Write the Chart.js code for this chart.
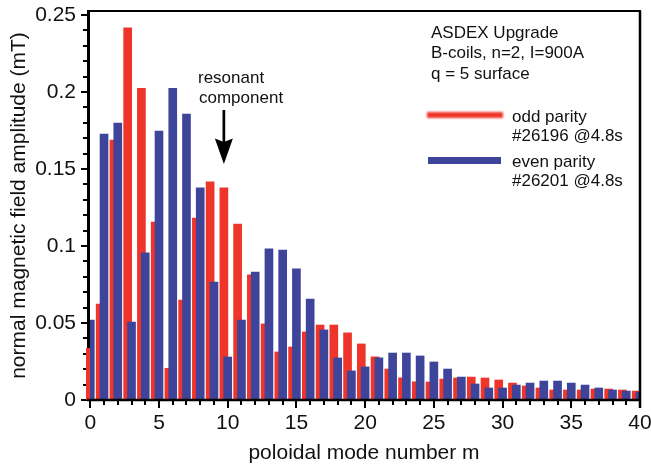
<!DOCTYPE html>
<html>
<head>
<meta charset="utf-8">
<title>Poloidal mode spectrum</title>
<script src="https://cdn.jsdelivr.net/npm/chart.js@4.4.0/dist/chart.umd.min.js"></script>
<style>
  html, body { margin: 0; padding: 0; background: #fff; }
  canvas { display: block; }
</style>
</head>
<body>
<canvas id="spectrum" width="651" height="470"></canvas>
<script>
const ODD_COLOR = "#ef3429";
const EVEN_COLOR = "#3e4499";
const TEXT_COLOR = "#111";
const FONT = "'Liberation Sans', Arial, Helvetica, sans-serif";

// poloidal mode numbers m
const modes = [0, 1, 2, 3, 4, 5, 6, 7, 8, 9, 10, 11, 12, 13, 14, 15, 16, 17, 18, 19, 20,
               21, 22, 23, 24, 25, 26, 27, 28, 29, 30, 31, 32, 33, 34, 35, 36, 37, 38, 39, 40];

// amplitude in mT, odd parity coil set (#26196 @4.8s)
const oddAmplitude = [0.0335, 0.0623, 0.1688, 0.2416, 0.2024, 0.1156, 0.0206, 0.0649, 0.1182, 0.1416,
                      0.1377, 0.1143, 0.0812, 0.0494, 0.0312, 0.0344, 0.0442, 0.0487, 0.0487, 0.0436,
                      0.0364, 0.0280, 0.0201, 0.0144, 0.0118, 0.0117, 0.0136, 0.0143, 0.0149, 0.0143,
                      0.0130, 0.0110, 0.0091, 0.0078, 0.0065, 0.0065, 0.0065, 0.0071, 0.0071, 0.0065,
                      0.0058];

// amplitude in mT, even parity coil set (#26201 @4.8s)
const evenAmplitude = [0.0519, 0.1727, 0.1799, 0.0506, 0.0955, 0.1747, 0.2024, 0.1857, 0.1377, 0.0766,
                       0.0279, 0.0519, 0.0831, 0.0981, 0.0974, 0.0851, 0.0656, 0.0455, 0.0273, 0.0189,
                       0.0215, 0.0274, 0.0305, 0.0305, 0.0286, 0.0247, 0.0201, 0.0149, 0.0104, 0.0078,
                       0.0078, 0.0097, 0.0110, 0.0123, 0.0123, 0.0110, 0.0097, 0.0078, 0.0065, 0.0058,
                       0.0052];

const xTicks = [0, 5, 10, 15, 20, 25, 30, 35, 40];
const xTickLabels = ["0", "5", "10", "15", "20", "25", "30", "35", "40"];
const yTicks = [0, 0.05, 0.1, 0.15, 0.2, 0.25];
const yTickLabels = ["0", "0.05", "0.1", "0.15", "0.2", "0.25"];

const infoLines = ["ASDEX Upgrade", "B-coils, n=2, I=900A", "q = 5 surface"];
const oddLabel = ["odd parity", "#26196 @4.8s"];
const evenLabel = ["even parity", "#26201 @4.8s"];
const arrowLabel = ["resonant", "component"];
const RESONANT_M = 10;

// odd bars sit a little to the left of the even bar of the same m
const ODD_SHIFT = 0.28;

const framePlugin = {
    id: "frame",
    beforeDatasetsDraw(chart) {
        const { ctx, chartArea: a, scales: { y } } = chart;
        ctx.save();
        ctx.strokeStyle = "#000";
        // left axis with ticks pointing outwards
        ctx.lineWidth = 3;
        ctx.beginPath();
        ctx.moveTo(a.left + 0.5, a.top);
        ctx.lineTo(a.left + 0.5, a.bottom + 1);
        ctx.stroke();
        ctx.lineWidth = 2;
        for (let i = 0; i <= 25; i++) {
            const py = Math.round(y.getPixelForValue(i / 100));
            const len = i % 5 === 0 ? 6 : 4;
            ctx.beginPath();
            ctx.moveTo(a.left - 1 - len, py);
            ctx.lineTo(a.left - 1, py);
            ctx.stroke();
        }
        ctx.restore();
    },
    afterDatasetsDraw(chart) {
        const { ctx, chartArea: a, scales: { x } } = chart;
        ctx.save();
        ctx.strokeStyle = "#000";

        // bottom axis, top and right border
        ctx.lineWidth = 2.5;
        ctx.beginPath();
        ctx.moveTo(a.left - 1, a.bottom);
        ctx.lineTo(a.right + 1, a.bottom);
        ctx.stroke();
        ctx.lineWidth = 2;
        ctx.beginPath();
        ctx.moveTo(a.left - 1, a.top);
        ctx.lineTo(a.right + 1, a.top);
        ctx.stroke();
        ctx.lineWidth = 2.5;
        ctx.beginPath();
        ctx.moveTo(a.right, a.top);
        ctx.lineTo(a.right, a.bottom + 8);
        ctx.stroke();

        ctx.lineWidth = 2;
        for (let m = 0; m < 40; m++) {
            const px = Math.round(x.getPixelForValue(m));
            const len = m % 5 === 0 ? 8 : 5;
            ctx.beginPath();
            ctx.moveTo(px, a.bottom);
            ctx.lineTo(px, a.bottom + len);
            ctx.stroke();
        }

        ctx.fillStyle = TEXT_COLOR;
        ctx.font = "17px " + FONT;
        ctx.textAlign = "left";
        ctx.textBaseline = "alphabetic";

        infoLines.forEach((t, i) => ctx.fillText(t, 431, 37.5 + i * 20.5));

        // legend
        ctx.save();
        ctx.filter = "blur(0.8px)";
        ctx.fillStyle = ODD_COLOR;
        ctx.fillRect(427, 112, 76, 6);
        ctx.restore();
        ctx.fillStyle = EVEN_COLOR;
        ctx.fillRect(428, 157, 73, 7);

        ctx.fillStyle = TEXT_COLOR;
        ctx.fillText(oddLabel[0], 512, 121.5);
        ctx.fillText(oddLabel[1], 512, 140.5);
        ctx.fillText(evenLabel[0], 512, 167);
        ctx.fillText(evenLabel[1], 512, 186);

        // arrow to the resonant m
        ctx.fillText(arrowLabel[0], 198, 83);
        ctx.fillText(arrowLabel[1], 199, 103);
        const ax = x.getPixelForValue(RESONANT_M - ODD_SHIFT);
        ctx.lineWidth = 2.7;
        ctx.beginPath();
        ctx.moveTo(ax, 110);
        ctx.lineTo(ax, 142);
        ctx.stroke();
        ctx.fillStyle = "#000";
        ctx.beginPath();
        ctx.moveTo(ax - 9, 138.5);
        ctx.lineTo(ax, 142);
        ctx.lineTo(ax + 9, 138.5);
        ctx.lineTo(ax, 164);
        ctx.closePath();
        ctx.fill();

        ctx.restore();
    }
};

const evenData = modes.map((m, i) => ({ x: m, y: evenAmplitude[i] }));
const oddData = modes.map((m, i) => ({ x: m - ODD_SHIFT, y: oddAmplitude[i] }));

new Chart(document.getElementById("spectrum"), {
    type: "bar",
    data: {
        datasets: [
            {
                label: "even parity",
                data: evenData,
                backgroundColor: EVEN_COLOR,
                order: 0,
                clip: { left: -2, top: false, right: 0, bottom: 0 }
            },
            {
                label: "odd parity",
                data: oddData,
                backgroundColor: ODD_COLOR,
                order: 1,
                clip: { left: 2, top: false, right: 0, bottom: 0 }
            }
        ]
    },
    options: {
        responsive: false,
        animation: false,
        devicePixelRatio: 1,
        layout: { padding: { top: 11, right: 11, bottom: 0, left: 0 } },
        datasets: { bar: { barThickness: 8, grouped: false, borderWidth: 0 } },
        plugins: { legend: { display: false }, tooltip: { enabled: false } },
        scales: {
            x: {
                type: "linear",
                min: -0.167,
                max: 40,
                offset: false,
                grid: { display: false, drawTicks: false },
                border: { display: false },
                afterBuildTicks: (s) => { s.ticks = xTicks.map((v) => ({ value: v })); },
                afterFit: (s) => {
                    s.height = 70;
                    s.paddingLeft = 0;
                    s.paddingRight = 0;
                },
                ticks: {
                    padding: 11,
                    color: TEXT_COLOR,
                    autoSkip: false,
                    maxRotation: 0,
                    font: { family: FONT, size: 21 },
                    callback: (v, i) => xTickLabels[i]
                },
                title: {
                    display: true,
                    text: "poloidal mode number m",
                    color: TEXT_COLOR,
                    font: { family: FONT, size: 21 },
                    padding: { top: 0, bottom: 4 }
                }
            },
            y: {
                type: "linear",
                min: 0,
                max: 0.2526,
                grid: { display: false, drawTicks: false },
                border: { display: false },
                afterBuildTicks: (s) => { s.ticks = yTicks.map((v) => ({ value: v })); },
                afterFit: (s) => {
                    s.width = 88;
                    s.paddingTop = 0;
                    s.paddingBottom = 0;
                },
                ticks: {
                    padding: 12,
                    color: TEXT_COLOR,
                    font: { family: FONT, size: 21 },
                    callback: (v, i) => yTickLabels[i]
                },
                title: {
                    display: true,
                    text: "normal magnetic field amplitude (mT)",
                    color: TEXT_COLOR,
                    font: { family: FONT, size: 21 },
                    padding: { top: 7, bottom: 0 }
                }
            }
        }
    },
    plugins: [framePlugin]
});
</script>
</body>
</html>
